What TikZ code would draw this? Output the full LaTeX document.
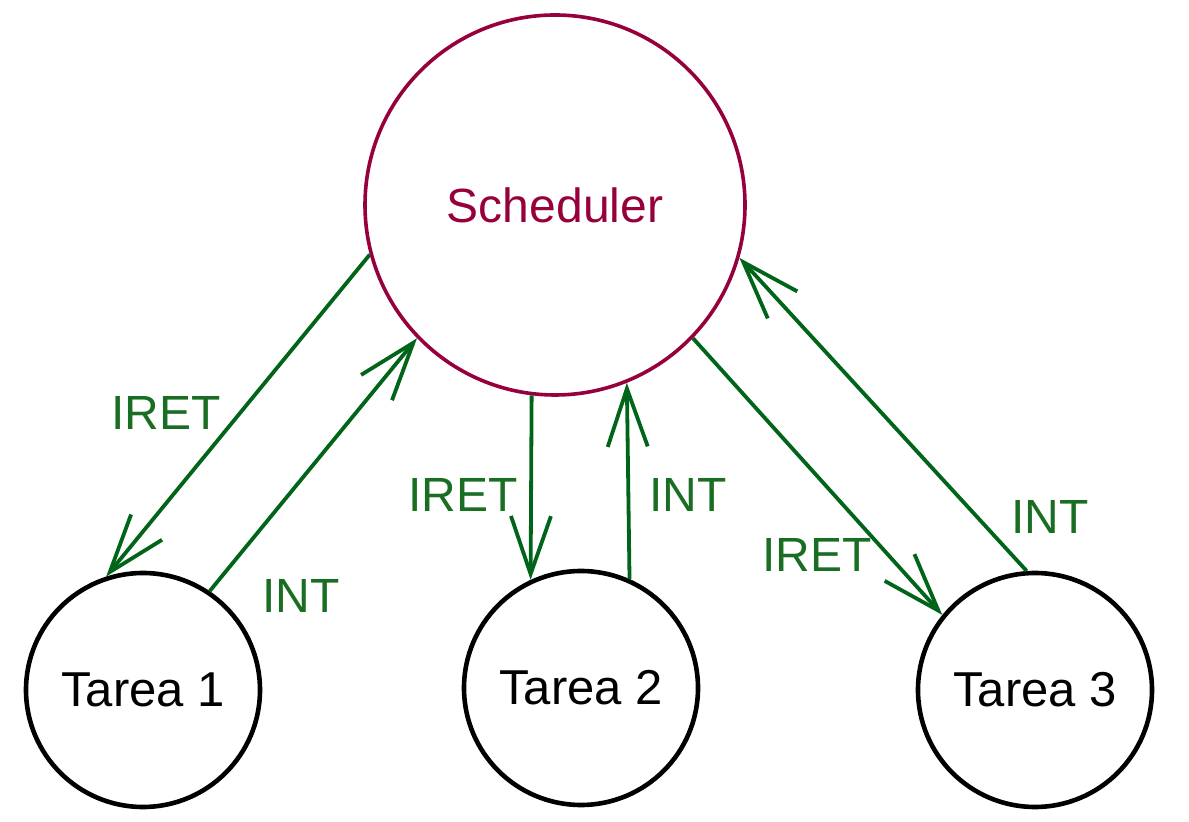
\documentclass[tikz,border=0pt]{standalone}
\usepackage{fontspec}
\setmainfont{Liberation Sans}
\usetikzlibrary{arrows.meta}
\definecolor{schedred}{RGB}{150,0,60}
\definecolor{flowgreen}{RGB}{0,100,25}
\definecolor{lblgreen}{RGB}{25,110,35}
\begin{document}
\begin{tikzpicture}[x=0.5pt, y=-0.5pt,
  task/.style={circle, draw, line width=2.3pt, minimum size=117pt, inner sep=0pt, font=\fontsize{24.5}{28}\selectfont},
  sched/.style={circle, draw=schedred, text=schedred, line width=1.8pt, minimum size=190pt, inner sep=0pt, font=\fontsize{24}{28}\selectfont},
  flow/.style={draw=flowgreen, line width=1.9pt, -{Straight Barb[length=29pt, width=20pt]}},
  lbl/.style={text=lblgreen, inner sep=0pt, font=\fontsize{24}{28}\selectfont}]
\useasboundingbox (0,0) rectangle (1189,822);
\node[sched] (sch) at (555,205){Scheduler};
\node[task] (t1) at (143,690){Tarea 1};
\node[task] (t2) at (581,688){Tarea 2};
\node[task] (t3) at (1035,690){Tarea 3};
\draw[flow](sch.195) -- (t1.108);
\draw[flow](t1.56) -- (sch.224);
\draw[flow](sch.263) -- (t2.115);
\draw[flow](t2.66) -- (sch.292);
\draw[flow](sch.316) -- (t3.141);
\draw[flow](t3.94) -- (sch.344);
\node[lbl] (iret1) at (166,413){IRET};
\node[lbl] (int1) at (301,596){INT};
\node[lbl] (iret2) at (463,495){IRET};
\node[lbl] (int2) at (688,495){INT};
\node[lbl] (iret3) at (817,555){IRET};
\node[lbl] (int3) at (1050,517){INT};
\end{tikzpicture}
\end{document}
